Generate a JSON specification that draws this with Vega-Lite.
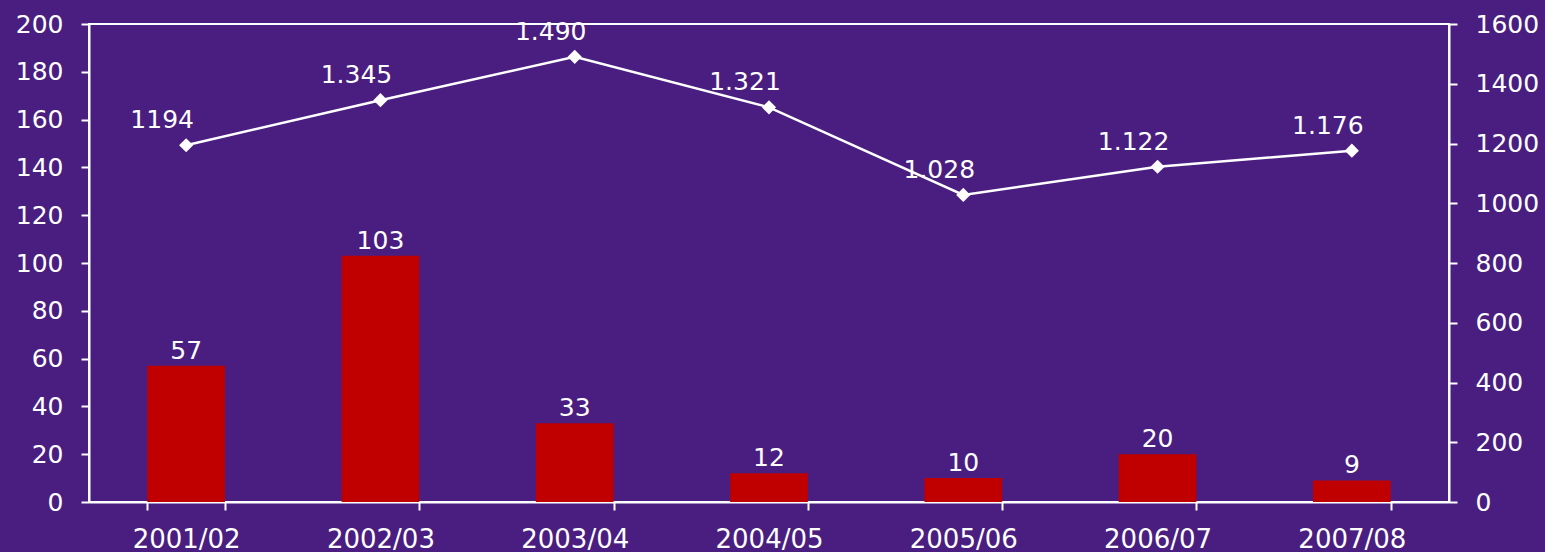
{
  "$schema": "https://vega.github.io/schema/vega-lite/v6.json",
  "width": 1360,
  "height": 478,
  "autosize": {"type": "none"},
  "padding": {"left": 89, "top": 24, "right": 96, "bottom": 50},
  "background": "#4A1E80",
  "config": {
    "view": {"stroke": "#FFFFFF", "strokeWidth": 2},
    "font": "DejaVu Sans",
    "axis": {
      "domainColor": "#FFFFFF", "domainWidth": 2,
      "tickColor": "#FFFFFF", "tickWidth": 2, "tickSize": 8,
      "labelColor": "#FFFFFF", "labelFont": "DejaVu Sans", "labelFontSize": 25,
      "grid": false, "title": null
    }
  },
  "data": {"values": [
    {"season": "2001/02", "count": 57, "total": 1194, "label": "1194"},
    {"season": "2002/03", "count": 103, "total": 1345, "label": "1.345"},
    {"season": "2003/04", "count": 33, "total": 1490, "label": "1.490"},
    {"season": "2004/05", "count": 12, "total": 1321, "label": "1.321"},
    {"season": "2005/06", "count": 10, "total": 1028, "label": "1.028"},
    {"season": "2006/07", "count": 20, "total": 1122, "label": "1.122"},
    {"season": "2007/08", "count": 9, "total": 1176, "label": "1.176"}
  ]},
  "encoding": {
    "x": {"field": "season", "type": "nominal", "sort": null,
      "scale": {"paddingInner": 0.6, "paddingOuter": 0.3},
      "axis": {"labelAngle": 0, "tickBand": "extent", "labelPadding": 16, "labelFontSize": 26}}
  },
  "layer": [
    {
      "encoding": {
        "y": {"field": "count", "type": "quantitative",
          "scale": {"domain": [0, 200], "nice": false},
          "axis": {"orient": "left", "values": [0,20,40,60,80,100,120,140,160,180,200], "labelPadding": 18}}
      },
      "layer": [
        {"mark": {"type": "bar", "color": "#C00000"}},
        {"mark": {"type": "text", "color": "#FFFFFF", "fontSize": 25, "baseline": "bottom", "dy": -2},
          "encoding": {"text": {"field": "count", "type": "quantitative"}}}
      ]
    },
    {
      "encoding": {
        "y": {"field": "total", "type": "quantitative",
          "scale": {"domain": [0, 1600], "nice": false},
          "axis": {"orient": "right", "values": [0,200,400,600,800,1000,1200,1400,1600], "format": "d", "labelPadding": 18}}
      },
      "layer": [
        {"mark": {"type": "line", "color": "#FFFFFF", "strokeWidth": 2.5}},
        {"mark": {"type": "point", "shape": "diamond", "filled": true, "color": "#FFFFFF", "size": 200, "opacity": 1}},
        {"mark": {"type": "text", "color": "#FFFFFF", "fontSize": 25, "dx": -24, "dy": -25},
          "encoding": {"text": {"field": "label", "type": "nominal"}}}
      ]
    }
  ],
  "resolve": {"scale": {"y": "independent"}}
}
